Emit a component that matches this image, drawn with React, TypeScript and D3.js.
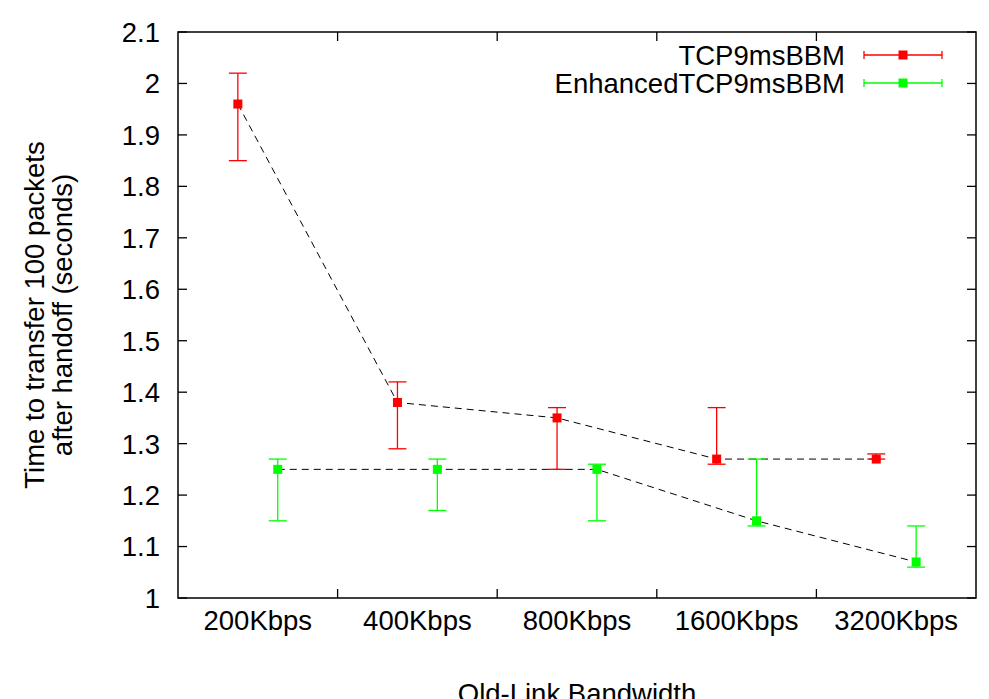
import React from 'react';
import * as d3 from 'd3';

const categories = ['200Kbps', '400Kbps', '800Kbps', '1600Kbps', '3200Kbps'];
const tcpMean = [1.96, 1.38, 1.35, 1.27, 1.27];
const tcpLow = [1.85, 1.29, 1.25, 1.26, 1.27];
const tcpHigh = [2.02, 1.42, 1.37, 1.37, 1.28];
const enhMean = [1.25, 1.25, 1.25, 1.15, 1.07];
const enhLow = [1.15, 1.17, 1.15, 1.14, 1.06];
const enhHigh = [1.27, 1.27, 1.26, 1.27, 1.14];
const yTicks = [1, 1.1, 1.2, 1.3, 1.4, 1.5, 1.6, 1.7, 1.8, 1.9, 2, 2.1];
const seriesNames = ['TCP9msBBM', 'EnhancedTCP9msBBM'];

const W = 989, H = 699;
const L = 178, R = 976, T = 32, B = 598;
const FONT = '"Liberation Sans", Arial, sans-serif';
const FS = 27.5;

export default function App() {
  const x = d3.scaleBand<string>().domain(categories).range([L, R]).padding(0);
  const y = d3.scaleLinear().domain([1, 2.1]).range([B, T]);
  const bw = x.bandwidth();
  const series = [
    { name: seriesNames[0], mean: tcpMean, low: tcpLow, high: tcpHigh, color: '#ff0000', off: -0.125 },
    { name: seriesNames[1], mean: enhMean, low: enhLow, high: enhHigh, color: '#00ff00', off: 0.125 },
  ];
  const line = d3.line<[number, number]>().x(d => d[0]).y(d => d[1]);
  const boundaries = categories.slice(1).map(c => x(c)!);
  const tick = 9;
  const cap = 9;
  const ms = 9;

  return (
    <svg width={W} height={H} style={{ position: 'absolute', left: 0, top: 0, background: '#fff' }}>
      <rect x={0} y={0} width={W} height={H} fill="#fff" />
      {/* y ticks */}
      {yTicks.map(v => (
        <g key={v}>
          <line x1={L} x2={L + tick} y1={y(v)} y2={y(v)} stroke="#000" strokeWidth={1.3} />
          <line x1={R} x2={R - tick} y1={y(v)} y2={y(v)} stroke="#000" strokeWidth={1.3} />
          <text x={160} y={y(v)} dy="0.36em" textAnchor="end" fontFamily={FONT} fontSize={FS} fill="#000">
            {d3.format('~g')(v)}
          </text>
        </g>
      ))}
      {/* x boundary ticks */}
      {boundaries.map((bx, i) => (
        <g key={i}>
          <line x1={bx} x2={bx} y1={B} y2={B - tick} stroke="#000" strokeWidth={1.3} />
          <line x1={bx} x2={bx} y1={T} y2={T + tick} stroke="#000" strokeWidth={1.3} />
        </g>
      ))}
      {categories.map(c => (
        <text key={c} x={x(c)! + bw / 2} y={630} textAnchor="middle" fontFamily={FONT} fontSize={FS} fill="#000">
          {c}
        </text>
      ))}
      {/* frame */}
      <rect x={L} y={T} width={R - L} height={B - T} fill="none" stroke="#000" strokeWidth={1.5} />
      {/* axis labels */}
      <g transform={`translate(44,${(T + B) / 2}) rotate(-90)`}>
        <text x={0} y={0} textAnchor="middle" fontFamily={FONT} fontSize={FS} fill="#000">
          Time to transfer 100 packets
        </text>
        <text x={0} y={27.5} textAnchor="middle" fontFamily={FONT} fontSize={FS} fill="#000">
          after handoff (seconds)
        </text>
      </g>
      <text x={577} y={703} textAnchor="middle" fontFamily={FONT} fontSize={FS} fill="#000">
        Old-Link Bandwidth
      </text>
      {/* dashed lines */}
      {series.map(s => (
        <path
          key={s.name + 'line'}
          d={line(s.mean.map((m, i) => [x(categories[i])! + bw / 2 + s.off * bw, y(m)]))!}
          fill="none"
          stroke="#000"
          strokeWidth={1}
          strokeDasharray="7,5"
        />
      ))}
      {/* error bars and markers */}
      {series.map(s => (
        <g key={s.name}>
          {s.mean.map((m, i) => {
            const cx = x(categories[i])! + bw / 2 + s.off * bw;
            return (
              <g key={i}>
                <line x1={cx} x2={cx} y1={y(s.low[i])} y2={y(s.high[i])} stroke={s.color} strokeWidth={1.3} />
                <line x1={cx - cap} x2={cx + cap} y1={y(s.low[i])} y2={y(s.low[i])} stroke={s.color} strokeWidth={1.3} />
                <line x1={cx - cap} x2={cx + cap} y1={y(s.high[i])} y2={y(s.high[i])} stroke={s.color} strokeWidth={1.3} />
                <rect x={cx - ms / 2} y={y(m) - ms / 2} width={ms} height={ms} fill={s.color} />
              </g>
            );
          })}
        </g>
      ))}
      {/* legend */}
      {series.map((s, i) => {
        const ly = 55 + i * 28;
        return (
          <g key={s.name + 'leg'}>
            <text x={845} y={ly} dy="0.36em" textAnchor="end" fontFamily={FONT} fontSize={FS} fill="#000">
              {s.name}
            </text>
            <line x1={864} x2={942} y1={ly} y2={ly} stroke={s.color} strokeWidth={1.3} />
            <line x1={864} x2={864} y1={ly - 4} y2={ly + 4} stroke={s.color} strokeWidth={1.3} />
            <line x1={942} x2={942} y1={ly - 4} y2={ly + 4} stroke={s.color} strokeWidth={1.3} />
            <rect x={903 - ms / 2} y={ly - ms / 2} width={ms} height={ms} fill={s.color} />
          </g>
        );
      })}
    </svg>
  );
}
